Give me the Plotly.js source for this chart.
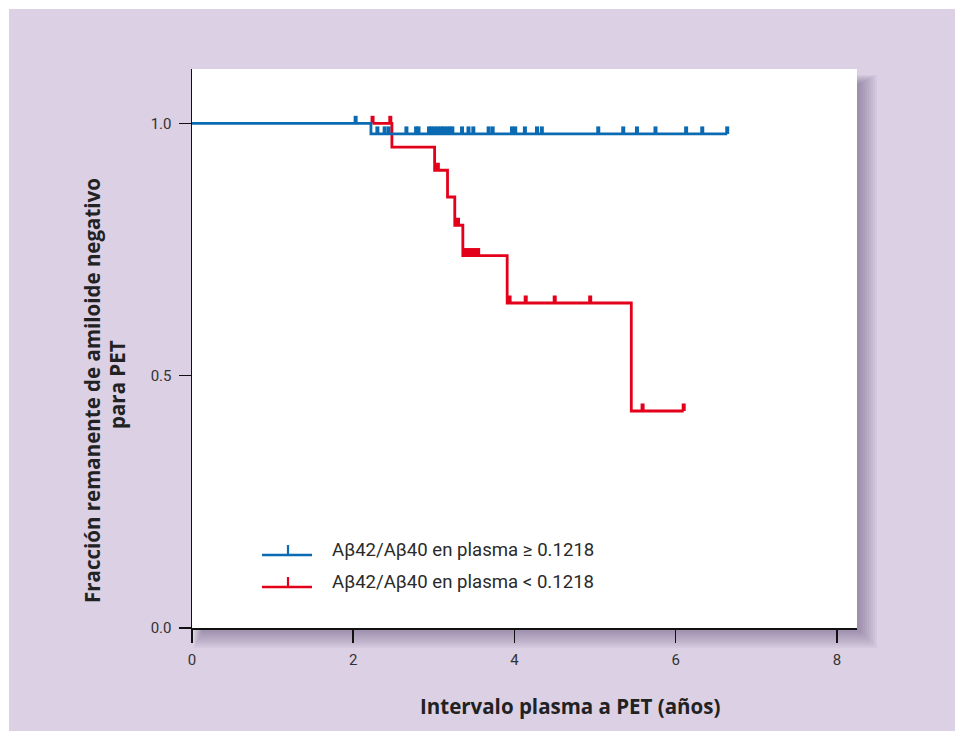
<!DOCTYPE html>
<html>
<head>
<meta charset="utf-8">
<script src="https://cdn.plot.ly/plotly-3.0.1.min.js"></script>
<style>
  html, body { margin: 0; padding: 0; background: #ffffff; }
  #chart { width: 955px; height: 731px; }
</style>
</head>
<body>
<div id="chart"></div>
<script>
// ---------- data ----------
const seriesNames = ['A\u03B242/A\u03B240 en plasma \u2265 0.1218', 'A\u03B242/A\u03B240 en plasma < 0.1218'];

// high ratio group (blue): step times and remaining fraction
const blueTimes = [0, 2.22, 6.64];
const blueSurv  = [1.0, 0.979, 0.979];
const blueCensor = [2.03, 2.30, 2.39, 2.44, 2.66, 2.78, 2.81,
                    2.94, 2.97, 3.01, 3.05, 3.09, 3.12, 3.16, 3.20, 3.23,
                    3.35, 3.43, 3.49, 3.68, 3.73, 3.97, 4.01, 4.13, 4.28, 4.34, 5.04, 5.35, 5.52, 5.75,
                    6.13, 6.33, 6.64];

// low ratio group (red)
const redTimes = [2.24, 2.48, 3.01, 3.17, 3.26, 3.36, 3.91, 5.45, 6.10];
const redSurv  = [1.0, 0.953, 0.907, 0.854, 0.798, 0.738, 0.644, 0.430, 0.430];
const redCensor = [2.24, 2.46, 3.05, 3.30, 3.39, 3.43, 3.47, 3.51, 3.55, 3.94, 4.14, 4.50, 4.94, 5.59, 6.10];

const xTicks = [0, 2, 4, 6, 8];
const yTicks = [0, 0.5, 1.0];
const yTickLabels = ['0.0', '0.5', '1.0'];

const xTitle = 'Intervalo plasma a PET (a\u00F1os)';
const yTitleLines = ['Fracci\u00F3n remanente de amiloide negativo', 'para PET'];

// ---------- layout geometry ----------
const W = 955, H = 731;
const M = { l: 192, r: 98, t: 69, b: 103 };
const PW = W - M.l - M.r, PH = H - M.t - M.b;
const xMax = 8.25, yMax = 1.1076;
const BLUE = '#0a6ab2', RED = '#e3001b';
const BG = '#dbd0e4';

function px2x(px) { return (px - M.l) / PW; }
function px2y(py) { return (H - M.b - py) / PH; }

function survAt(times, surv, t) {
  let v = surv[0];
  for (let i = 0; i < times.length; i++) { if (times[i] <= t + 1e-9) v = surv[i]; }
  return v;
}
const tickHeight = 7.5 * yMax / PH;   // censor tick rises from the line centre
const tickWidth = 4 * xMax / PW;      // px wide

function censorTrace(times, surv, cens, color) {
  return {
    type: 'bar', x: cens,
    base: cens.map(t => survAt(times, surv, t)),
    y: cens.map(() => tickHeight),
    width: tickWidth,
    showlegend: false, hoverinfo: 'skip',
    marker: { color: color, line: { width: 0 } }
  };
}

const traces = [
  { x: redTimes, y: redSurv, mode: 'lines', type: 'scatter', name: seriesNames[1], showlegend: false,
    line: { shape: 'hv', color: RED, width: 2.8 } },
  censorTrace(redTimes, redSurv, redCensor, RED),
  { x: blueTimes, y: blueSurv, mode: 'lines', type: 'scatter', name: seriesNames[0], showlegend: false,
    line: { shape: 'hv', color: BLUE, width: 2.8 } },
  censorTrace(blueTimes, blueSurv, blueCensor, BLUE)
];

// ---------- decorative shapes ----------
const shapes = [];
// white outer frame at top/left
shapes.push({ type: 'rect', xref: 'paper', yref: 'paper', layer: 'below', line: { width: 0 }, fillcolor: '#ffffff',
  x0: px2x(0), x1: px2x(9), y0: px2y(H), y1: px2y(0) });
shapes.push({ type: 'rect', xref: 'paper', yref: 'paper', layer: 'below', line: { width: 0 }, fillcolor: '#ffffff',
  x0: px2x(0), x1: px2x(W), y0: px2y(9), y1: px2y(0) });
// soft drop shadow (L-shaped bands right and below the plot panel)
const right = W - M.r, bottom = H - M.b;
for (let i = 1; i <= 10; i++) {
  const e = 2 * i;
  const xr = px2x(right + e), yb = px2y(bottom + e);
  const xa = px2x(right), ya = px2y(bottom);
  const ytop = px2y(M.t + 16 - i), xleft = px2x(M.l + 12 - i);
  const p = `M${xa},${ytop} L${xr},${ytop} L${xr},${yb} L${xleft},${yb} L${xleft},${ya} L${xa},${ya} Z`;
  shapes.push({ type: 'path', xref: 'paper', yref: 'paper', layer: 'below', path: p,
    fillcolor: 'rgba(85,60,105,0.05)', line: { width: 0 } });
}
// legend glyphs
function legendGlyph(yPx, color) {
  shapes.push({ type: 'line', xref: 'paper', yref: 'paper', x0: px2x(262), x1: px2x(312), y0: px2y(yPx), y1: px2y(yPx),
    line: { color: color, width: 2.5 } });
  shapes.push({ type: 'line', xref: 'paper', yref: 'paper', x0: px2x(288), x1: px2x(288), y0: px2y(yPx), y1: px2y(yPx - 10),
    line: { color: color, width: 2.2 } });
}
legendGlyph(555, BLUE);
legendGlyph(587, RED);

const titleFont = { family: '"Open Sans", sans-serif', size: 20.5, color: '#222222', weight: 700 };
const legendFont = { family: 'Roboto, sans-serif', size: 18.6, color: '#2a2a2a' };
const annotations = [
  { text: seriesNames[0], xref: 'paper', yref: 'paper', x: px2x(330), y: px2y(549.5), xanchor: 'left', yanchor: 'middle',
    showarrow: false, font: legendFont },
  { text: seriesNames[1], xref: 'paper', yref: 'paper', x: px2x(330), y: px2y(582), xanchor: 'left', yanchor: 'middle',
    showarrow: false, font: legendFont },
  { text: xTitle, xref: 'paper', yref: 'paper', x: px2x(569.5), y: px2y(706), xanchor: 'center', yanchor: 'middle',
    showarrow: false, font: titleFont },
  { text: yTitleLines[0], xref: 'paper', yref: 'paper', x: px2x(92), y: px2y(391), xanchor: 'center', yanchor: 'middle',
    textangle: -90, showarrow: false, font: titleFont },
  { text: yTitleLines[1], xref: 'paper', yref: 'paper', x: px2x(117), y: px2y(385), xanchor: 'center', yanchor: 'middle',
    textangle: -90, showarrow: false, font: titleFont }
];

const layout = {
  width: W, height: H,
  margin: M,
  paper_bgcolor: BG,
  plot_bgcolor: '#ffffff',
  showlegend: false,
  barmode: 'overlay',
  xaxis: {
    range: [0, xMax], tickvals: xTicks, ticktext: xTicks.map(String),
    showgrid: false, zeroline: false, showline: true, linecolor: '#111111', linewidth: 1.5,
    ticks: 'outside', ticklen: 13, tickwidth: 1.5, tickcolor: '#111111',
    ticklabelstandoff: 4,
    tickfont: { family: 'Roboto, sans-serif', size: 15, color: '#333333' }, fixedrange: true
  },
  yaxis: {
    range: [0, yMax], tickvals: yTicks, ticktext: yTickLabels,
    showgrid: false, zeroline: false, showline: true, linecolor: '#111111', linewidth: 1.5,
    ticks: 'outside', ticklen: 12, tickwidth: 1.5, tickcolor: '#111111',
    ticklabelstandoff: 4,
    tickfont: { family: 'Roboto, sans-serif', size: 15, color: '#333333' }, fixedrange: true
  },
  shapes: shapes,
  annotations: annotations
};

Plotly.newPlot('chart', traces, layout, { displayModeBar: false, staticPlot: true });
</script>
</body>
</html>
